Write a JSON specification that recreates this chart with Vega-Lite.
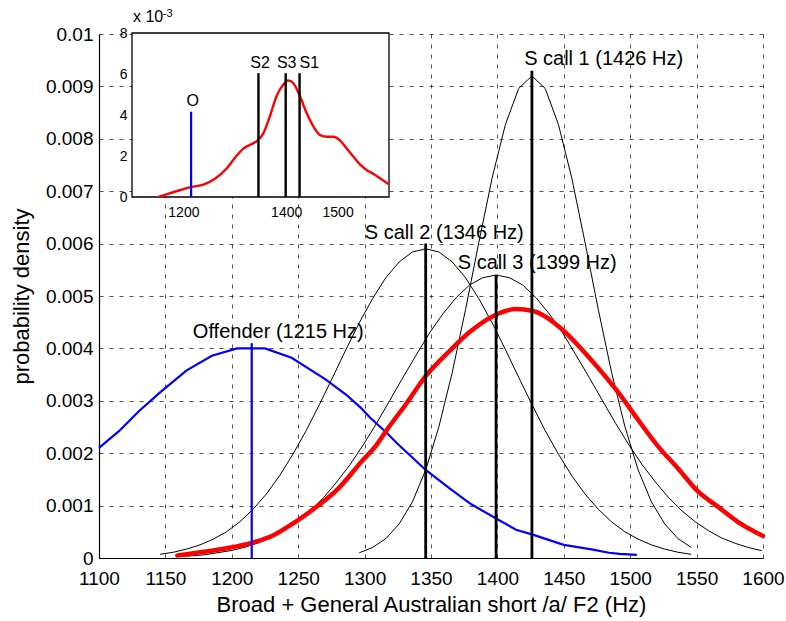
{
  "$schema": "https://vega.github.io/schema/vega-lite/v6.json",
  "width": 664,
  "height": 524,
  "autosize": {"type": "none"},
  "padding": {"left": 99, "top": 34, "right": 23, "bottom": 63},
  "background": "white",
  "config": {"view": {"stroke": null}, "font": "Liberation Sans", "text": {"font": "Liberation Sans", "color": "black"}},
  "datasets": {
    "offender": [
      {"f": 1100, "d": 0.0021}, {"f": 1115, "d": 0.00242}, {"f": 1130, "d": 0.0028}, {"f": 1146, "d": 0.00316},
      {"f": 1166, "d": 0.00358}, {"f": 1185, "d": 0.00386}, {"f": 1204, "d": 0.004}, {"f": 1225, "d": 0.004},
      {"f": 1245, "d": 0.00382}, {"f": 1270, "d": 0.00342}, {"f": 1286, "d": 0.00312}, {"f": 1297, "d": 0.00287},
      {"f": 1304, "d": 0.00268}, {"f": 1317, "d": 0.00238}, {"f": 1324, "d": 0.0022}, {"f": 1346, "d": 0.00168},
      {"f": 1364, "d": 0.00133}, {"f": 1380, "d": 0.00103}, {"f": 1400, "d": 0.00074}, {"f": 1414, "d": 0.00054},
      {"f": 1426, "d": 0.00045}, {"f": 1450, "d": 0.00025}, {"f": 1472, "d": 0.00016}, {"f": 1484, "d": 0.0001},
      {"f": 1492, "d": 0.00008}, {"f": 1505, "d": 0.00006}
    ],
    "scalls": [
      {"call": "S call 1", "f": 1296, "d": 0.0001}, {"call": "S call 1", "f": 1306, "d": 0.0002},
      {"call": "S call 1", "f": 1316, "d": 0.00037}, {"call": "S call 1", "f": 1326, "d": 0.00065},
      {"call": "S call 1", "f": 1336, "d": 0.00107}, {"call": "S call 1", "f": 1346, "d": 0.00168},
      {"call": "S call 1", "f": 1356, "d": 0.00251}, {"call": "S call 1", "f": 1366, "d": 0.00354},
      {"call": "S call 1", "f": 1376, "d": 0.00474}, {"call": "S call 1", "f": 1386, "d": 0.00602},
      {"call": "S call 1", "f": 1396, "d": 0.00725}, {"call": "S call 1", "f": 1406, "d": 0.00827},
      {"call": "S call 1", "f": 1416, "d": 0.00896}, {"call": "S call 1", "f": 1426, "d": 0.0092},
      {"call": "S call 1", "f": 1436, "d": 0.00896}, {"call": "S call 1", "f": 1446, "d": 0.00827},
      {"call": "S call 1", "f": 1456, "d": 0.00725}, {"call": "S call 1", "f": 1466, "d": 0.00602},
      {"call": "S call 1", "f": 1476, "d": 0.00474}, {"call": "S call 1", "f": 1486, "d": 0.00354},
      {"call": "S call 1", "f": 1496, "d": 0.00251}, {"call": "S call 1", "f": 1506, "d": 0.00168},
      {"call": "S call 1", "f": 1516, "d": 0.00107}, {"call": "S call 1", "f": 1526, "d": 0.00065},
      {"call": "S call 1", "f": 1536, "d": 0.00037}, {"call": "S call 1", "f": 1546, "d": 0.0002},
      {"call": "S call 2", "f": 1146, "d": 0.00007}, {"call": "S call 2", "f": 1156, "d": 0.00011},
      {"call": "S call 2", "f": 1166, "d": 0.00017}, {"call": "S call 2", "f": 1176, "d": 0.00025},
      {"call": "S call 2", "f": 1186, "d": 0.00036}, {"call": "S call 2", "f": 1196, "d": 0.0005},
      {"call": "S call 2", "f": 1206, "d": 0.00069}, {"call": "S call 2", "f": 1216, "d": 0.00093},
      {"call": "S call 2", "f": 1226, "d": 0.00122}, {"call": "S call 2", "f": 1236, "d": 0.00157},
      {"call": "S call 2", "f": 1246, "d": 0.00198}, {"call": "S call 2", "f": 1256, "d": 0.00243},
      {"call": "S call 2", "f": 1266, "d": 0.00293}, {"call": "S call 2", "f": 1276, "d": 0.00345},
      {"call": "S call 2", "f": 1286, "d": 0.00398}, {"call": "S call 2", "f": 1296, "d": 0.00449},
      {"call": "S call 2", "f": 1306, "d": 0.00495}, {"call": "S call 2", "f": 1316, "d": 0.00535},
      {"call": "S call 2", "f": 1326, "d": 0.00565}, {"call": "S call 2", "f": 1336, "d": 0.00584},
      {"call": "S call 2", "f": 1346, "d": 0.0059}, {"call": "S call 2", "f": 1356, "d": 0.00584},
      {"call": "S call 2", "f": 1366, "d": 0.00565}, {"call": "S call 2", "f": 1376, "d": 0.00535},
      {"call": "S call 2", "f": 1386, "d": 0.00495}, {"call": "S call 2", "f": 1396, "d": 0.00449},
      {"call": "S call 2", "f": 1406, "d": 0.00398}, {"call": "S call 2", "f": 1416, "d": 0.00345},
      {"call": "S call 2", "f": 1426, "d": 0.00293}, {"call": "S call 2", "f": 1436, "d": 0.00243},
      {"call": "S call 2", "f": 1446, "d": 0.00198}, {"call": "S call 2", "f": 1456, "d": 0.00157},
      {"call": "S call 2", "f": 1466, "d": 0.00122}, {"call": "S call 2", "f": 1476, "d": 0.00093},
      {"call": "S call 2", "f": 1486, "d": 0.00069}, {"call": "S call 2", "f": 1496, "d": 0.0005},
      {"call": "S call 2", "f": 1506, "d": 0.00036}, {"call": "S call 2", "f": 1516, "d": 0.00025},
      {"call": "S call 2", "f": 1526, "d": 0.00017}, {"call": "S call 2", "f": 1536, "d": 0.00011},
      {"call": "S call 2", "f": 1546, "d": 0.00007},
      {"call": "S call 3", "f": 1159, "d": 0.00003}, {"call": "S call 3", "f": 1169, "d": 0.00004},
      {"call": "S call 3", "f": 1179, "d": 0.00006}, {"call": "S call 3", "f": 1189, "d": 0.0001},
      {"call": "S call 3", "f": 1199, "d": 0.00014}, {"call": "S call 3", "f": 1209, "d": 0.0002},
      {"call": "S call 3", "f": 1219, "d": 0.00028}, {"call": "S call 3", "f": 1229, "d": 0.00038},
      {"call": "S call 3", "f": 1239, "d": 0.00052}, {"call": "S call 3", "f": 1249, "d": 0.00069},
      {"call": "S call 3", "f": 1259, "d": 0.0009}, {"call": "S call 3", "f": 1269, "d": 0.00115},
      {"call": "S call 3", "f": 1279, "d": 0.00145}, {"call": "S call 3", "f": 1289, "d": 0.00178},
      {"call": "S call 3", "f": 1299, "d": 0.00216}, {"call": "S call 3", "f": 1309, "d": 0.00257},
      {"call": "S call 3", "f": 1319, "d": 0.00301}, {"call": "S call 3", "f": 1329, "d": 0.00345},
      {"call": "S call 3", "f": 1339, "d": 0.00388}, {"call": "S call 3", "f": 1349, "d": 0.0043},
      {"call": "S call 3", "f": 1359, "d": 0.00466}, {"call": "S call 3", "f": 1369, "d": 0.00497},
      {"call": "S call 3", "f": 1379, "d": 0.00521}, {"call": "S call 3", "f": 1389, "d": 0.00535},
      {"call": "S call 3", "f": 1399, "d": 0.0054}, {"call": "S call 3", "f": 1409, "d": 0.00535},
      {"call": "S call 3", "f": 1419, "d": 0.00521}, {"call": "S call 3", "f": 1429, "d": 0.00497},
      {"call": "S call 3", "f": 1439, "d": 0.00466}, {"call": "S call 3", "f": 1449, "d": 0.0043},
      {"call": "S call 3", "f": 1459, "d": 0.00388}, {"call": "S call 3", "f": 1469, "d": 0.00345},
      {"call": "S call 3", "f": 1479, "d": 0.00301}, {"call": "S call 3", "f": 1489, "d": 0.00257},
      {"call": "S call 3", "f": 1499, "d": 0.00216}, {"call": "S call 3", "f": 1509, "d": 0.00178},
      {"call": "S call 3", "f": 1519, "d": 0.00145}, {"call": "S call 3", "f": 1529, "d": 0.00115},
      {"call": "S call 3", "f": 1539, "d": 0.0009}, {"call": "S call 3", "f": 1549, "d": 0.00069},
      {"call": "S call 3", "f": 1559, "d": 0.00052}, {"call": "S call 3", "f": 1569, "d": 0.00038},
      {"call": "S call 3", "f": 1579, "d": 0.00028}, {"call": "S call 3", "f": 1589, "d": 0.0002},
      {"call": "S call 3", "f": 1599, "d": 0.00014}
    ],
    "pooled": [
      {"f": 1159, "d": 0.00005}, {"f": 1182, "d": 0.00013}, {"f": 1199, "d": 0.0002}, {"f": 1215, "d": 0.00029},
      {"f": 1231, "d": 0.00043}, {"f": 1248, "d": 0.00069}, {"f": 1265, "d": 0.001}, {"f": 1280, "d": 0.00132},
      {"f": 1297, "d": 0.00182}, {"f": 1309, "d": 0.00216}, {"f": 1318, "d": 0.00249}, {"f": 1331, "d": 0.00293},
      {"f": 1346, "d": 0.00347}, {"f": 1364, "d": 0.00395}, {"f": 1380, "d": 0.00433}, {"f": 1397, "d": 0.00462},
      {"f": 1414, "d": 0.00475}, {"f": 1426, "d": 0.00472}, {"f": 1447, "d": 0.0044}, {"f": 1470, "d": 0.0038},
      {"f": 1491, "d": 0.00316}, {"f": 1505, "d": 0.00267}, {"f": 1521, "d": 0.00213}, {"f": 1536, "d": 0.00171},
      {"f": 1551, "d": 0.00127}, {"f": 1566, "d": 0.00098}, {"f": 1581, "d": 0.00069}, {"f": 1600, "d": 0.00042}
    ],
    "markers": [
      {"f": 1215, "d": 0.0041, "kind": "O"},
      {"f": 1346, "d": 0.006, "kind": "S"},
      {"f": 1399, "d": 0.0054, "kind": "S"},
      {"f": 1426, "d": 0.0093, "kind": "S"}
    ],
    "labels": [
      {"f": 1235, "d": 0.00431, "label": "Offender (1215 Hz)"},
      {"f": 1480, "d": 0.00952, "label": "S call 1 (1426 Hz)"},
      {"f": 1360, "d": 0.0062, "label": "S call 2 (1346 Hz)"},
      {"f": 1430, "d": 0.00563, "label": "S call 3 (1399 Hz)"}
    ],
    "insetbox": [{"f": 1100, "f2": 1600, "d": 0, "d2": 0.008}],
    "insetcurve": [
      {"f": 1151, "d": 0}, {"f": 1167, "d": 0.00013}, {"f": 1193, "d": 0.00033}, {"f": 1216, "d": 0.00049},
      {"f": 1239, "d": 0.0006}, {"f": 1262, "d": 0.0009}, {"f": 1284, "d": 0.00139}, {"f": 1300, "d": 0.0019},
      {"f": 1316, "d": 0.00235}, {"f": 1330, "d": 0.00255}, {"f": 1344, "d": 0.00275}, {"f": 1355, "d": 0.00308},
      {"f": 1368, "d": 0.00392}, {"f": 1381, "d": 0.0049}, {"f": 1394, "d": 0.00547}, {"f": 1404, "d": 0.00568},
      {"f": 1414, "d": 0.00555}, {"f": 1427, "d": 0.0049}, {"f": 1440, "d": 0.00408}, {"f": 1453, "d": 0.00343},
      {"f": 1466, "d": 0.00302}, {"f": 1480, "d": 0.00294}, {"f": 1492, "d": 0.00294}, {"f": 1505, "d": 0.00275},
      {"f": 1518, "d": 0.00235}, {"f": 1531, "d": 0.00196}, {"f": 1544, "d": 0.00158}, {"f": 1557, "d": 0.00131},
      {"f": 1570, "d": 0.00112}, {"f": 1583, "d": 0.0009}, {"f": 1600, "d": 0.00062}
    ],
    "insetmarkers": [
      {"f": 1215, "d": 0.00416, "kind": "O"},
      {"f": 1346, "d": 0.00604, "kind": "S"},
      {"f": 1399, "d": 0.00604, "kind": "S"},
      {"f": 1426, "d": 0.00604, "kind": "S"}
    ],
    "insetlabels": [
      {"f": 1218, "d": 0.0047, "label": "O"},
      {"f": 1349, "d": 0.00652, "label": "S2"},
      {"f": 1401, "d": 0.00652, "label": "S3"},
      {"f": 1445, "d": 0.00652, "label": "S1"}
    ],
    "insetunit": [{"f": 1102, "d": 0.00855, "label": "x 10"}],
    "insetexp": [{"f": 1160, "d": 0.00878, "label": "-3"}]
  },
  "layer": [
    {
      "encoding": {
        "x": {
          "field": "f", "type": "quantitative",
          "scale": {"domain": [1100, 1600], "nice": false, "zero": false},
          "axis": {
            "title": "Broad + General Australian short /a/ F2 (Hz)",
            "values": [1100, 1150, 1200, 1250, 1300, 1350, 1400, 1450, 1500, 1550, 1600],
            "format": "d", "grid": true, "gridColor": "black", "gridDash": [4, 6], "gridWidth": 0.8, "gridOpacity": 0.85,
            "domainColor": "black", "domainWidth": 1.2, "ticks": false, "tickSize": 0,
            "labelFontSize": 19, "labelColor": "black", "labelFlush": false, "labelPadding": 11, "labelOverlap": false,
            "labelFont": "Liberation Sans", "titleFont": "Liberation Sans",
            "titleFontSize": 22, "titleFontWeight": "normal", "titleColor": "black", "titlePadding": 6
          }
        },
        "y": {
          "field": "d", "type": "quantitative",
          "scale": {"domain": [0, 0.01], "nice": false, "zero": false},
          "axis": {
            "title": "probability density",
            "values": [0, 0.001, 0.002, 0.003, 0.004, 0.005, 0.006, 0.007, 0.008, 0.009, 0.01],
            "labelExpr": "datum.value == 0 ? '0' : format(datum.value, '.3~f')",
            "grid": true, "gridColor": "black", "gridDash": [4, 6], "gridWidth": 0.8, "gridOpacity": 0.85,
            "domainColor": "black", "domainWidth": 1.2, "ticks": false, "tickSize": 0,
            "labelFontSize": 19, "labelColor": "black", "labelPadding": 6, "labelOverlap": false,
            "labelFont": "Liberation Sans", "titleFont": "Liberation Sans",
            "titleFontSize": 22, "titleFontWeight": "normal", "titleColor": "black", "titlePadding": 12
          }
        }
      },
      "layer": [
        {"data": {"name": "offender"}, "mark": {"type": "line", "color": "#0000ff", "strokeWidth": 2.2}, "encoding": {}},
        {"data": {"name": "scalls"}, "mark": {"type": "line", "color": "black", "strokeWidth": 1}, "encoding": {"detail": {"field": "call"}}},
        {"data": {"name": "pooled"}, "mark": {"type": "line", "color": "#ff0000", "strokeWidth": 4.5, "strokeCap": "round", "interpolate": "monotone"}, "encoding": {}},
        {"data": {"name": "markers"}, "transform": [{"filter": "datum.kind == 'S'"}], "mark": {"type": "rule", "color": "black", "strokeWidth": 2.8}, "encoding": {"y2": {"datum": 0}}},
        {"data": {"name": "markers"}, "transform": [{"filter": "datum.kind == 'O'"}], "mark": {"type": "rule", "color": "#0000ff", "strokeWidth": 2.2}, "encoding": {"y2": {"datum": 0}}},
        {"data": {"name": "labels"}, "mark": {"type": "text", "fontSize": 20, "align": "center", "baseline": "middle", "color": "black", "font": "Liberation Sans"}, "encoding": {"text": {"field": "label"}}}
      ]
    },
    {
      "encoding": {
        "x": {
          "field": "f", "type": "quantitative",
          "scale": {"domain": [1100, 1600], "range": [33, 290], "nice": false, "zero": false},
          "axis": {
            "orient": "bottom", "offset": -361, "values": [1200, 1400, 1500], "format": "d", "title": null,
            "grid": false, "domain": false, "ticks": false, "tickSize": 0,
            "labelFontSize": 14, "labelColor": "black", "labelPadding": 8, "labelFlush": false, "labelFont": "Liberation Sans", "zindex": 1
          }
        },
        "y": {
          "field": "d", "type": "quantitative",
          "scale": {"domain": [0, 0.008], "range": [163, -1], "nice": false, "zero": false},
          "axis": {
            "orient": "left", "offset": -33, "values": [0, 0.002, 0.004, 0.006, 0.008],
            "labelExpr": "format(datum.value * 1000, 'd')", "title": null,
            "grid": false, "domain": false, "ticks": false, "tickSize": 0,
            "labelFontSize": 14, "labelColor": "black", "labelPadding": 5, "labelFont": "Liberation Sans", "zindex": 1
          }
        }
      },
      "layer": [
        {"data": {"name": "insetbox"}, "mark": {"type": "rect", "fill": "white", "stroke": "black", "strokeWidth": 1.3}, "encoding": {"x2": {"field": "f2"}, "y2": {"field": "d2"}}},
        {"data": {"name": "insetcurve"}, "mark": {"type": "line", "color": "#ff0000", "strokeWidth": 2.4, "interpolate": "monotone"}, "encoding": {}},
        {"data": {"name": "insetmarkers"}, "transform": [{"filter": "datum.kind == 'S'"}], "mark": {"type": "rule", "color": "black", "strokeWidth": 2.4}, "encoding": {"y2": {"datum": 0}}},
        {"data": {"name": "insetmarkers"}, "transform": [{"filter": "datum.kind == 'O'"}], "mark": {"type": "rule", "color": "#0000ff", "strokeWidth": 2.2}, "encoding": {"y2": {"datum": 0}}},
        {"data": {"name": "insetlabels"}, "mark": {"type": "text", "fontSize": 16, "align": "center", "baseline": "middle", "color": "black", "font": "Liberation Sans"}, "encoding": {"text": {"field": "label"}}},
        {"data": {"name": "insetunit"}, "mark": {"type": "text", "fontSize": 16, "align": "left", "baseline": "alphabetic", "color": "black", "font": "Liberation Sans"}, "encoding": {"text": {"field": "label"}}},
        {"data": {"name": "insetexp"}, "mark": {"type": "text", "fontSize": 11, "align": "left", "baseline": "alphabetic", "color": "black", "font": "Liberation Sans"}, "encoding": {"text": {"field": "label"}}}
      ]
    }
  ],
  "resolve": {"scale": {"x": "independent", "y": "independent"}, "axis": {"x": "independent", "y": "independent"}}
}
